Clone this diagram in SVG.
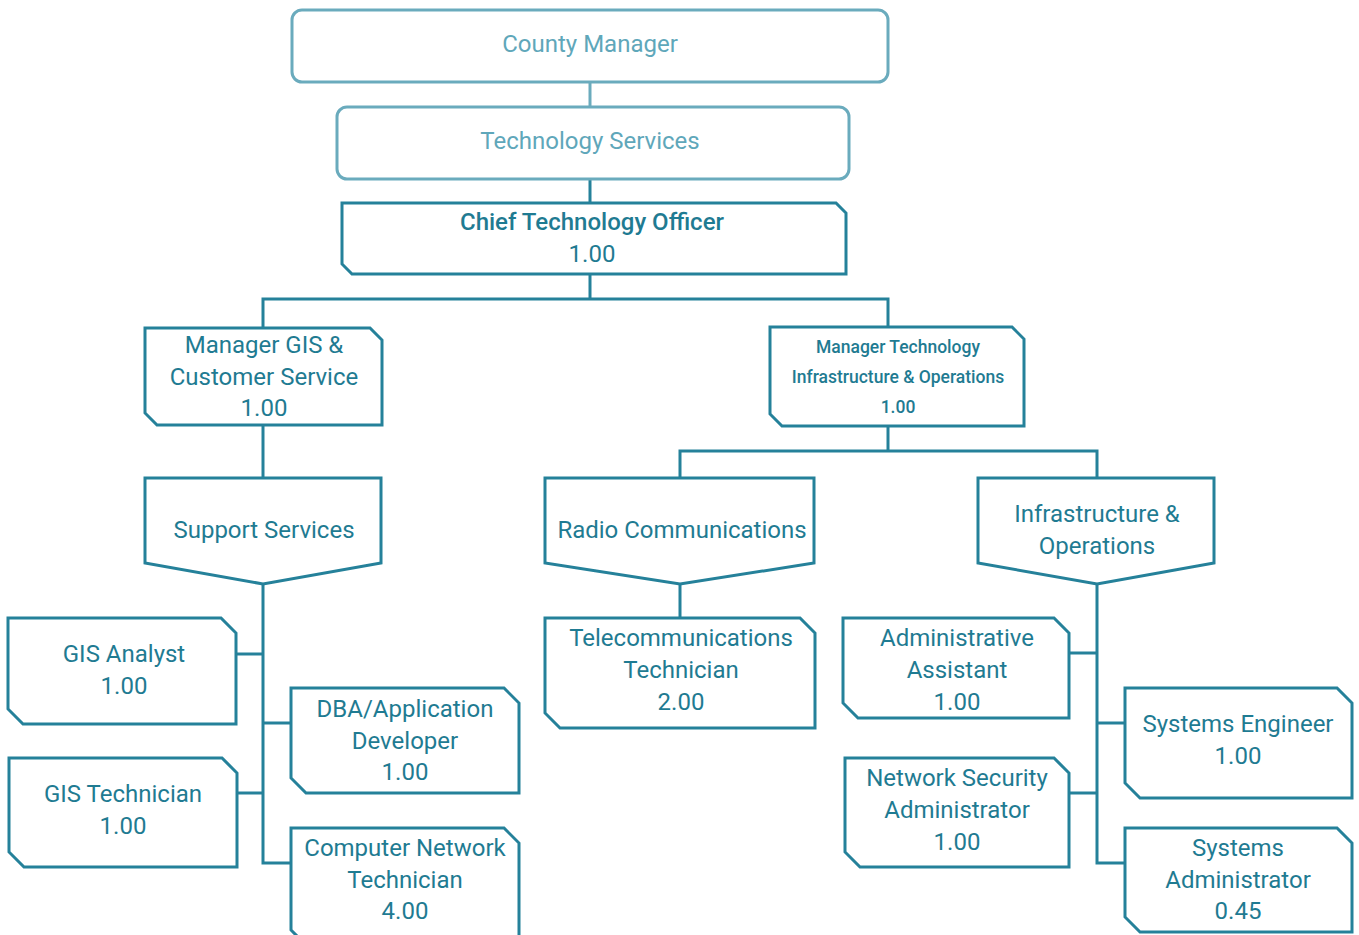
<svg xmlns="http://www.w3.org/2000/svg" width="1359" height="935" viewBox="0 0 1359 935">
  <style>
    .top { fill: #ffffff; stroke: #6aabbd; stroke-width: 3; }
    .box { fill: #ffffff; stroke: #25819a; stroke-width: 3; stroke-linejoin: miter; }
    .link { fill: none; stroke: #25819a; stroke-width: 3; }
    .link-light { fill: none; stroke: #6aabbd; stroke-width: 3; }
    text { font-family: Roboto, "Liberation Sans", sans-serif; font-size: 24px; fill: #1f7b92; text-anchor: middle; dominant-baseline: central; }
    .tl { fill: #5fa7ba; }
    .small { font-size: 17.5px; font-weight: 500; }
  </style>

  <!-- connectors -->
  <g id="connectors">
    <line class="link-light" x1="590" y1="82" x2="590" y2="107"/>
    <line class="link" x1="590" y1="179" x2="590" y2="203"/>
    <polyline class="link" points="590,274 590,299"/>
    <polyline class="link" points="263,328 263,299 888,299 888,327"/>
    <line class="link" x1="263" y1="425" x2="263" y2="478"/>
    <line class="link" x1="888" y1="426" x2="888" y2="451"/>
    <polyline class="link" points="680,478 680,451 1097,451 1097,478"/>
    <!-- support services branch -->
    <polyline class="link" points="263,584 263,863 291,863"/>
    <line class="link" x1="236" y1="654" x2="263" y2="654"/>
    <line class="link" x1="263" y1="723" x2="291" y2="723"/>
    <line class="link" x1="237" y1="793" x2="263" y2="793"/>
    <!-- radio branch -->
    <line class="link" x1="680" y1="584" x2="680" y2="618"/>
    <!-- infrastructure branch -->
    <polyline class="link" points="1097,584 1097,863 1125,863"/>
    <line class="link" x1="1069" y1="653" x2="1097" y2="653"/>
    <line class="link" x1="1097" y1="723" x2="1125" y2="723"/>
    <line class="link" x1="1069" y1="793" x2="1097" y2="793"/>
  </g>

  <g id="county-manager">
    <rect class="top" x="292" y="10" width="596" height="72" rx="10"/>
    <text class="tl" x="590" y="44">County Manager</text>
  </g>

  <g id="technology-services">
    <rect class="top" x="337" y="107" width="512" height="72" rx="10"/>
    <text class="tl" x="590" y="141">Technology Services</text>
  </g>

  <g id="cto">
    <path class="box" d="M342,203 H836 L846,213 V274 H352 L342,264 Z"/>
    <text x="592" y="222" style="font-weight:500">Chief Technology Officer</text>
    <text x="592" y="254">1.00</text>
  </g>

  <g id="manager-gis">
    <path class="box" d="M145,328 H370 L382,340 V425 H157 L145,413 Z"/>
    <text x="264" y="345">Manager GIS &amp;</text>
    <text x="264" y="377">Customer Service</text>
    <text x="264" y="408">1.00</text>
  </g>

  <g id="manager-tech">
    <path class="box" d="M770,327 H1012 L1024,339 V426 H782 L770,414 Z"/>
    <text class="small" x="898" y="347">Manager Technology</text>
    <text class="small" x="898" y="377">Infrastructure &amp; Operations</text>
    <text class="small" x="898" y="407">1.00</text>
  </g>

  <g id="support-services">
    <path class="box" d="M145,478 H381 V563 L263,584 L145,563 Z"/>
    <text x="264" y="530">Support Services</text>
  </g>

  <g id="radio-communications">
    <path class="box" d="M545,478 H814 V563 L680,584 L545,563 Z"/>
    <text x="682" y="530">Radio Communications</text>
  </g>

  <g id="infrastructure-operations">
    <path class="box" d="M978,478 H1214 V563 L1097,584 L978,563 Z"/>
    <text x="1097" y="514">Infrastructure &amp;</text>
    <text x="1097" y="546">Operations</text>
  </g>

  <g id="gis-analyst">
    <path class="box" d="M8,618 H221 L236,633 V724 H23 L8,709 Z"/>
    <text x="124" y="654">GIS Analyst</text>
    <text x="124" y="686">1.00</text>
  </g>

  <g id="gis-technician">
    <path class="box" d="M9,758 H222 L237,773 V867 H24 L9,852 Z"/>
    <text x="123" y="794">GIS Technician</text>
    <text x="123" y="826">1.00</text>
  </g>

  <g id="dba-developer">
    <path class="box" d="M291,688 H504 L519,703 V793 H306 L291,778 Z"/>
    <text x="405" y="709">DBA/Application</text>
    <text x="405" y="741">Developer</text>
    <text x="405" y="772">1.00</text>
  </g>

  <g id="computer-network-technician">
    <path class="box" d="M291,828 H504 L519,843 V945 H306 L291,930 Z"/>
    <text x="405" y="848">Computer Network</text>
    <text x="405" y="880">Technician</text>
    <text x="405" y="911">4.00</text>
  </g>

  <g id="telecom-technician">
    <path class="box" d="M545,618 H800 L815,633 V728 H560 L545,713 Z"/>
    <text x="681" y="638">Telecommunications</text>
    <text x="681" y="670">Technician</text>
    <text x="681" y="702">2.00</text>
  </g>

  <g id="administrative-assistant">
    <path class="box" d="M843,618 H1054 L1069,633 V718 H858 L843,703 Z"/>
    <text x="957" y="638">Administrative</text>
    <text x="957" y="670">Assistant</text>
    <text x="957" y="702">1.00</text>
  </g>

  <g id="network-security-administrator">
    <path class="box" d="M845,758 H1054 L1069,773 V867 H860 L845,852 Z"/>
    <text x="957" y="778">Network Security</text>
    <text x="957" y="810">Administrator</text>
    <text x="957" y="842">1.00</text>
  </g>

  <g id="systems-engineer">
    <path class="box" d="M1125,688 H1337 L1352,703 V798 H1140 L1125,783 Z"/>
    <text x="1238" y="724">Systems Engineer</text>
    <text x="1238" y="756">1.00</text>
  </g>

  <g id="systems-administrator">
    <path class="box" d="M1125,828 H1337 L1352,843 V932 H1140 L1125,917 Z"/>
    <text x="1238" y="848">Systems</text>
    <text x="1238" y="880">Administrator</text>
    <text x="1238" y="911">0.45</text>
  </g>
</svg>
